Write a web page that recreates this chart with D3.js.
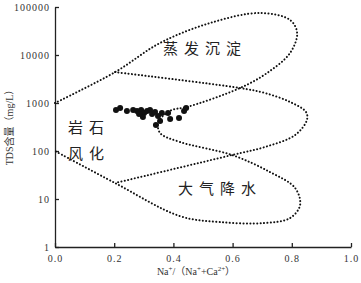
<!DOCTYPE html>
<html>
<head>
<meta charset="utf-8">
<script src="https://cdn.jsdelivr.net/npm/d3@7"></script>
<style>
  body { margin: 0; background: #fff; }
  .tick text { font-family: "Liberation Serif", serif; font-size: 10px; fill: #333; letter-spacing: 1px; }
  .cn { font-family: "Noto Sans CJK SC", sans-serif; font-size: 15px; fill: #222; }
</style>
</head>
<body>
<div id="container"></div>
<script>
'use strict';

const width = 361,
      height = 283,
      margin = {top: 7, bottom: 36, right: 10, left: 55};

// sample points: Na/(Na+Ca) and TDS (mg/L)
const ratio = [0.206, 0.22, 0.243, 0.264, 0.277, 0.291, 0.301, 0.311, 0.321, 0.297, 0.328,
               0.338, 0.348, 0.355, 0.341, 0.382, 0.389, 0.419, 0.436, 0.443, 0.284, 0.361];
const tds = [715, 787, 681, 715, 681, 715, 619, 681, 715, 511, 590,
             650, 536, 422, 348, 619, 464, 487, 681, 787, 590, 617];

// Gibbs boundary: outer boomerang
const outerX = [0, 0.203, 0.355, 0.524, 0.693, 0.794, 0.818, 0.794, 0.716, 0.625, 0.446, 0.395,
                0.361, 0.348, 0.355, 0.422, 0.598, 0.726, 0.811, 0.828, 0.794, 0.709, 0.557, 0.422, 0.203, 0];
const outerY = [1000, 4400, 17800, 46400, 75000, 53700, 28700, 11000, 4200, 2050, 826, 715,
                511, 383, 237, 154, 82.5, 36.5, 17, 7.5, 4.0, 3.16, 3.3, 4.4, 21.5, 100];
// inner lobe
const innerX = [0.203, 0.625, 0.709, 0.794, 0.848, 0.851, 0.811, 0.709, 0.598, 0.203];
const innerY = [4400, 2050, 1616, 1050, 650, 442, 215, 121, 82.5, 21.5];

const yTicks = [1, 10, 100, 1000, 10000, 100000];
const xTicks = [0, 0.2, 0.4, 0.6, 0.8, 1.0];

const svg = d3.select("#container")
  .append("svg")
  .attr("width", width)
  .attr("height", height);

const xScale = d3.scaleLinear()
  .domain([0, 1])
  .range([margin.left, 351]);

const yScale = d3.scaleLog()
  .domain([1, 100000])
  .range([height - margin.bottom, margin.top]);

const xAxis = d3.axisBottom(xScale)
  .tickValues(xTicks)
  .tickFormat(d3.format(".1f"))
  .tickSizeInner(-4)
  .tickSizeOuter(0)
  .tickPadding(8);

const yAxis = d3.axisLeft(yScale)
  .tickValues(yTicks)
  .tickFormat(d => d)
  .tickSizeInner(-4)
  .tickSizeOuter(0)
  .tickPadding(5);

svg.append("g")
  .attr("class", "axis x-axis")
  .attr("transform", `translate(0, ${height - margin.bottom})`)
  .call(xAxis);

svg.append("g")
  .attr("class", "axis y-axis")
  .attr("transform", `translate(${margin.left}, 0)`)
  .call(yAxis);

svg.selectAll(".axis path, .axis line")
  .attr("stroke", "#222")
  .attr("stroke-width", 1.3);

// boundary curves
const line = d3.line()
  .x(d => xScale(d[0]))
  .y(d => yScale(d[1]))
  .curve(d3.curveCatmullRom.alpha(0.5));

const curves = [
  d3.zip(outerX, outerY),
  d3.zip(innerX, innerY)
];

svg.selectAll(".boundary")
  .data(curves)
  .join("path")
  .attr("class", "boundary")
  .attr("d", line)
  .attr("fill", "none")
  .attr("stroke", "#111")
  .attr("stroke-width", 2)
  .attr("stroke-linecap", "round")
  .attr("stroke-dasharray", "0.1 3.3");

// samples
svg.selectAll(".dot")
  .data(d3.zip(ratio, tds))
  .join("circle")
  .attr("class", "dot")
  .attr("cx", d => xScale(d[0]))
  .attr("cy", d => yScale(d[1]))
  .attr("r", 3)
  .attr("fill", "#111");

// region labels
const labels = [
  {text: "蒸发沉淀", x: 163, y: 54},
  {text: "岩石", x: 68, y: 133},
  {text: "风化", x: 68, y: 159},
  {text: "大气降水", x: 178, y: 194}
];
svg.selectAll(".cn")
  .data(labels)
  .join("text")
  .attr("class", "cn")
  .attr("x", d => d.x)
  .attr("y", d => d.y)
  .attr("letter-spacing", 6)
  .text(d => d.text);

// axis titles
svg.append("text")
  .attr("transform", "translate(13, 125) rotate(-90)")
  .attr("text-anchor", "middle")
  .style("font-family", "'Liberation Serif', 'Noto Sans CJK SC', serif")
  .style("font-size", "10px")
  .attr("fill", "#333")
  .text("TDS含量（mg/L）");

const xt = svg.append("text")
  .attr("x", 196)
  .attr("y", 275)
  .attr("text-anchor", "middle")
  .style("font-family", "'Liberation Serif', 'Noto Sans CJK SC', serif")
  .style("font-size", "10px")
  .attr("fill", "#333");
xt.append("tspan").text("Na");
xt.append("tspan").attr("dy", -4).style("font-size", "7px").text("+");
xt.append("tspan").attr("dy", 4).text("/（Na");
xt.append("tspan").attr("dy", -4).style("font-size", "7px").text("+");
xt.append("tspan").attr("dy", 4).text("+Ca");
xt.append("tspan").attr("dy", -4).style("font-size", "7px").text("2+");
xt.append("tspan").attr("dy", 4).text("）");
</script>
</body>
</html>
